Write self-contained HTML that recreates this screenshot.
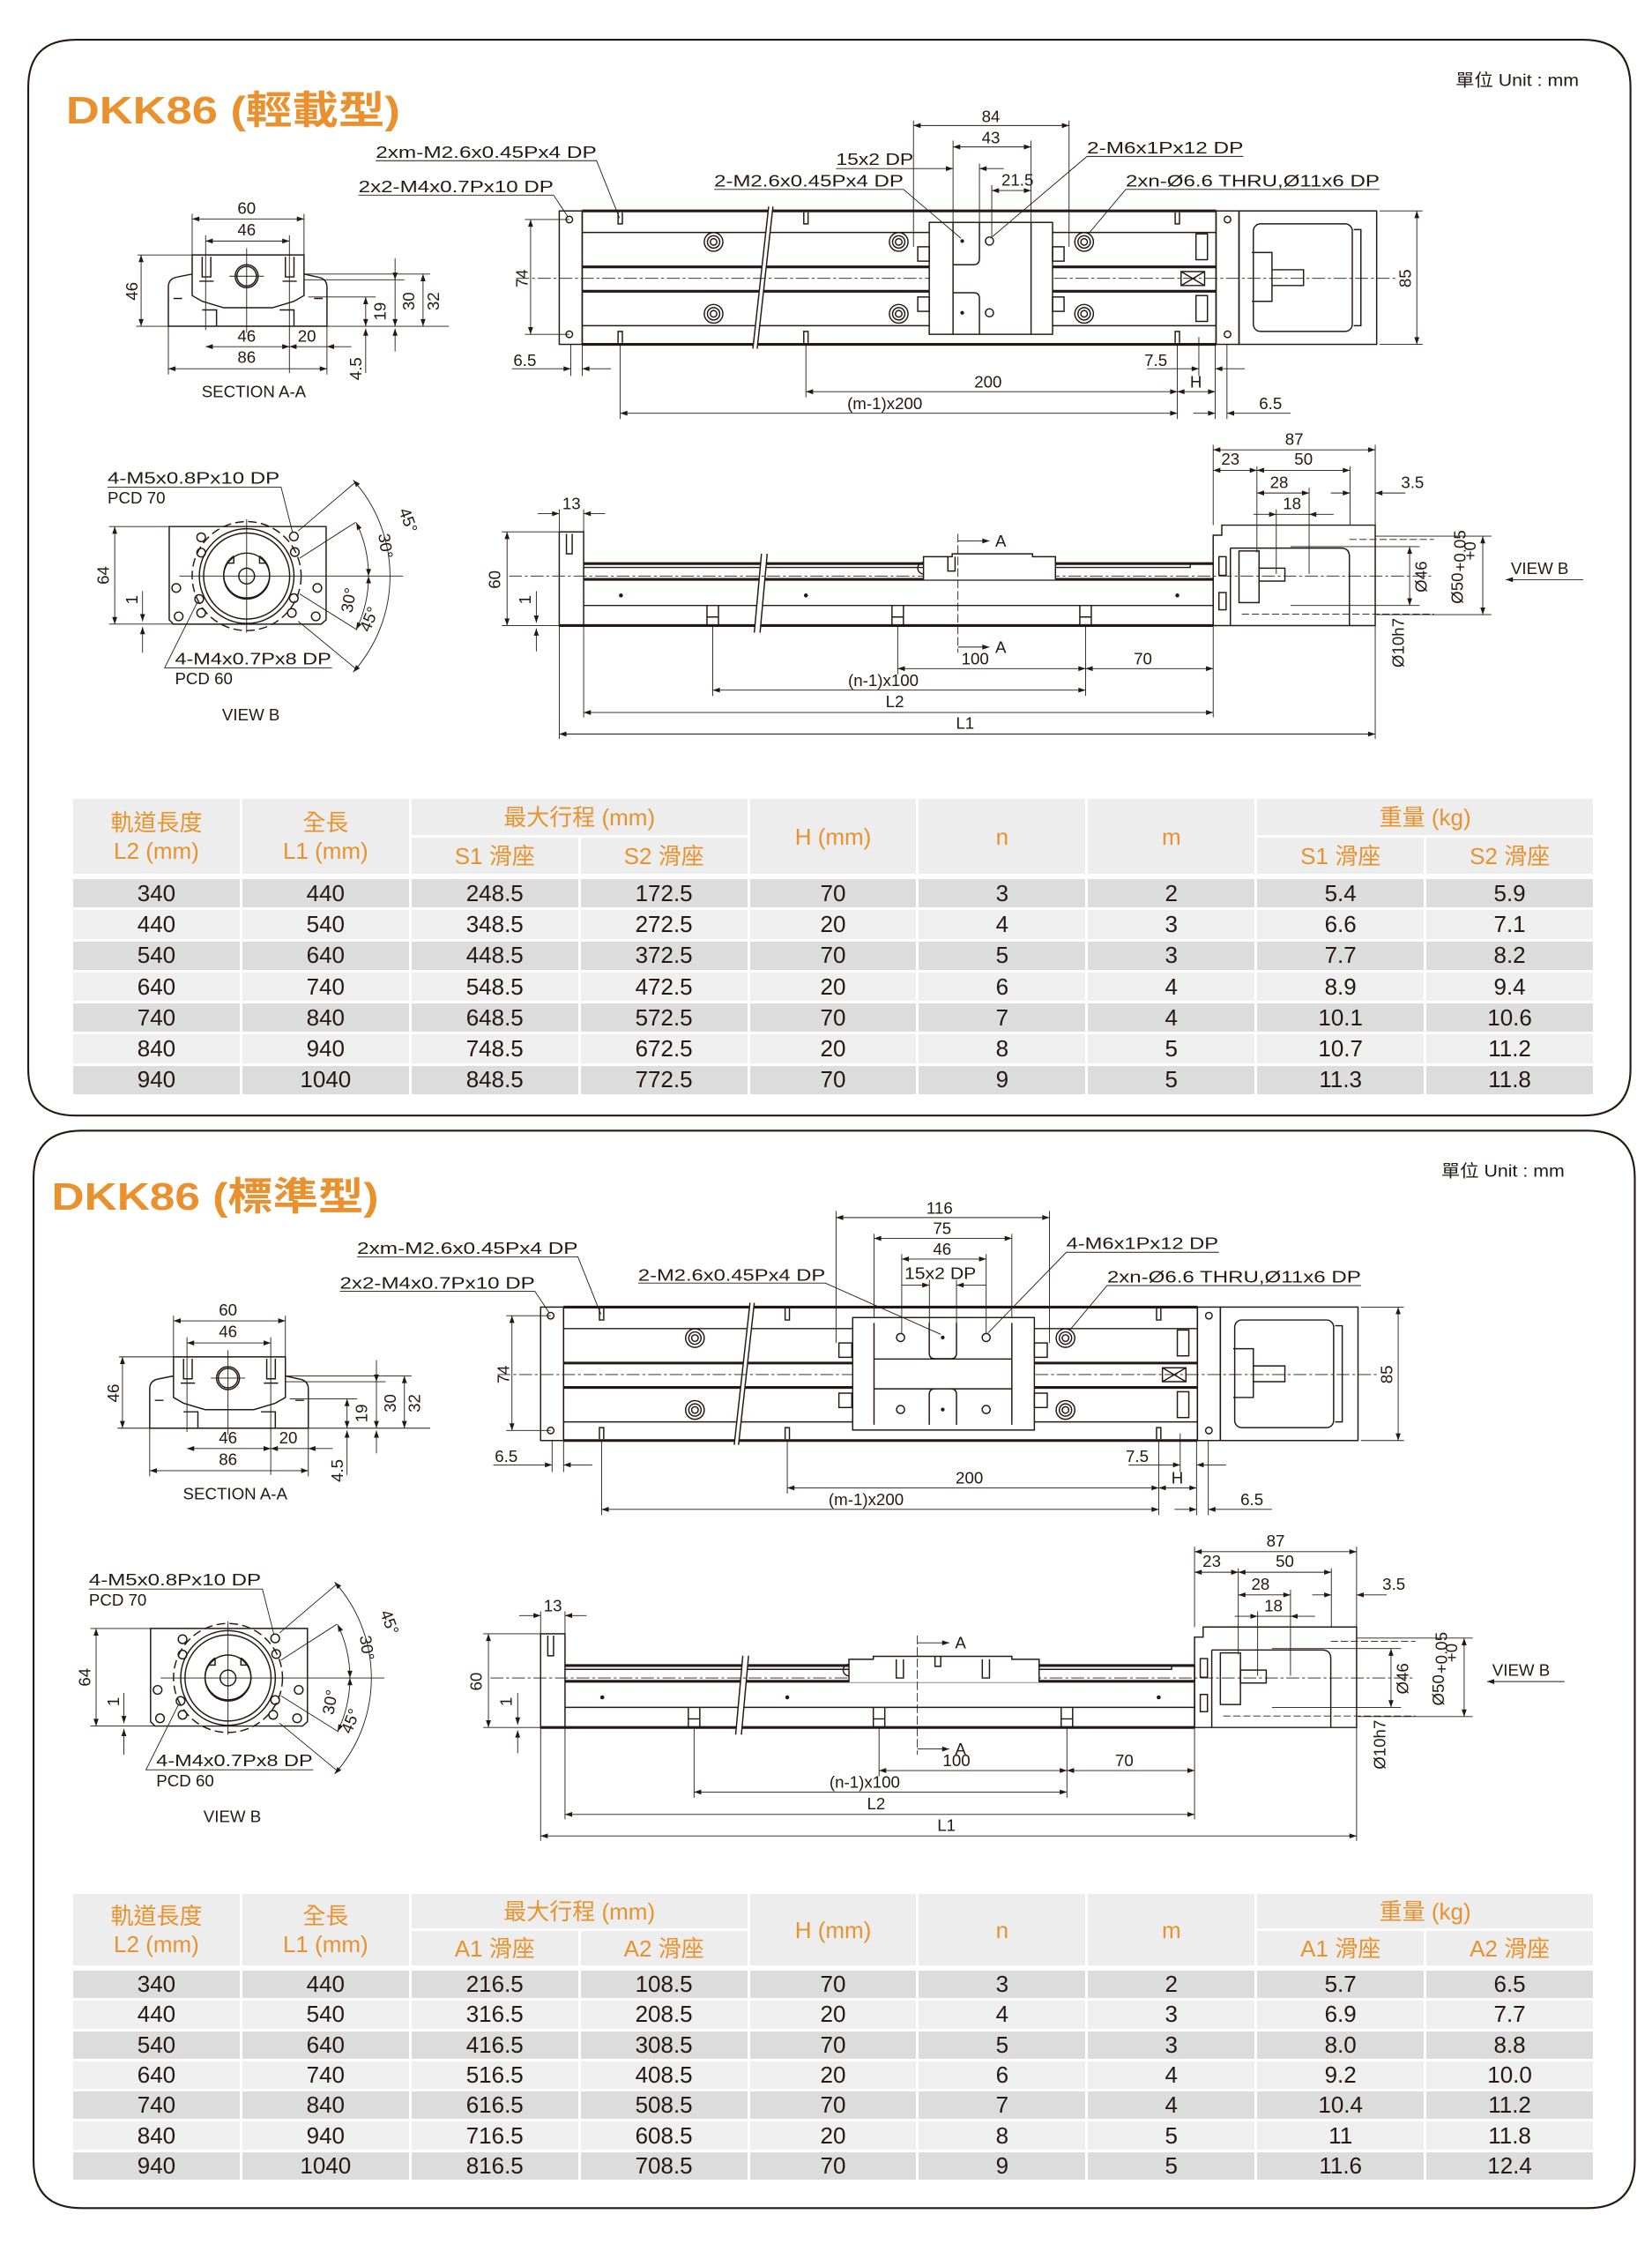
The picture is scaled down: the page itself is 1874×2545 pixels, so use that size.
<!DOCTYPE html>
<html><head><meta charset="utf-8"><style>
html,body{margin:0;padding:0;background:#fff}
body{width:1874px;height:2545px;position:relative;overflow:hidden}
svg.m{position:absolute;left:0;top:0}
.s{fill:none;stroke:#231815;stroke-width:.9}
.w{fill:#fff;stroke:#231815;stroke-width:.9}
.k{fill:none;stroke:#231815;stroke-width:1.9}
.d{fill:none;stroke:#231815;stroke-width:.55}
.c{stroke-dasharray:9 2 2 2}
.f{fill:#231815}
text{font-family:"Liberation Sans",sans-serif;font-size:11.5px;fill:#231815}
.tt{font-family:"Liberation Sans","Noto Sans CJK TC",sans-serif;font-weight:bold;font-size:27px;fill:#E8912E}
.u{font-family:"Liberation Sans","Noto Sans CJK TC",sans-serif;font-size:12px}
table{position:absolute;border-collapse:collapse;table-layout:fixed;font-family:"Liberation Sans","Noto Sans CJK TC",sans-serif;font-size:26px;text-align:center}
td{border:3px solid #fff;padding:0;overflow:hidden;white-space:nowrap}
.h td{background:#ededed;color:#E8922E;line-height:32px}
.b td{color:#231815}
.b tr:nth-child(odd) td{background:#dcdcdc}
.b tr:nth-child(even) td{background:#efefef}
</style></head><body>
<svg class="m" width="1874" height="2545" viewBox="0 0 1152 1564" preserveAspectRatio="none">
<defs>
<marker id="a" viewBox="0 0 10 10" refX="10" refY="5" markerWidth="6" markerHeight="5" orient="auto-start-reverse" markerUnits="userSpaceOnUse"><path d="M0,1.5L10,5L0,8.5z" fill="#231815"/></marker>
<g id="T">
<rect class="s" x="390" y="147" width="16" height="93"/>
<rect class="s" x="406" y="147" width="442" height="93"/>
<path class="k" d="M406,147H848M406,240H848M406,186H848M406,203H848"/>
<path class="s" d="M406,162H848M406,227H848"/>
<rect class="s" x="848" y="147" width="16" height="93"/>
<rect class="s" x="864" y="147" width="96" height="93"/>
<rect class="s" x="874" y="156" width="69" height="75" rx="5"/>
<path class="s" d="M873,176h14v34h-14M887,188h22v11h-22M944,160h5v67h-5"/>
<g class="s"><circle cx="397" cy="153" r="2.3"/><circle cx="397" cy="233" r="2.3"/><circle cx="856" cy="153" r="2.3"/><circle cx="856" cy="233" r="2.3"/></g>
<path class="s" d="M431,148v8h3v-8M560.5,148v8h3v-8M819.5,148v8h3v-8M431,239v-8h3v8M560.5,239v-8h3v8M819.5,239v-8h3v8"/>
<g class="s"><circle cx="497.6" cy="168.6" r="6.5"/><circle cx="497.6" cy="168.6" r="4.3"/><circle cx="497.6" cy="168.6" r="2.3"/>
<circle cx="626.7" cy="168.6" r="6.5"/><circle cx="626.7" cy="168.6" r="4.3"/><circle cx="626.7" cy="168.6" r="2.3"/>
<circle cx="756" cy="168.6" r="6.5"/><circle cx="756" cy="168.6" r="4.3"/><circle cx="756" cy="168.6" r="2.3"/>
<circle cx="497.6" cy="218.7" r="6.5"/><circle cx="497.6" cy="218.7" r="4.3"/><circle cx="497.6" cy="218.7" r="2.3"/>
<circle cx="626.7" cy="218.7" r="6.5"/><circle cx="626.7" cy="218.7" r="4.3"/><circle cx="626.7" cy="218.7" r="2.3"/>
<circle cx="756" cy="218.7" r="6.5"/><circle cx="756" cy="218.7" r="4.3"/><circle cx="756" cy="218.7" r="2.3"/></g>
<path class="s" d="M823.6,189.3h16.4v9.7h-16.4zM823.6,189.3l16.4,9.7M840,189.3l-16.4,9.7"/>
<rect class="s" x="834" y="163" width="8" height="18"/><rect class="s" x="834" y="206" width="8" height="18"/>
<path d="M536,144L539,144L528,243L525,243Z" fill="#fff"/>
<path class="s" d="M536,144L525,243M539,144L528,243"/>
<path class="d c" d="M360,194H975"/>
<path class="d" d="M370,153V233" marker-start="url(#a)" marker-end="url(#a)"/>
<path class="d" d="M366,153H397M366,233H397"/>
<text transform="translate(368,194) rotate(-90)" text-anchor="middle">74</text>
<path class="d" d="M988,147V240" marker-start="url(#a)" marker-end="url(#a)"/>
<path class="d" d="M962,147H992M962,240H992"/>
<text transform="translate(984,194) rotate(-90)" text-anchor="middle">85</text>
<path class="d" d="M398,240V262M406,240V262M432.5,240V292M562,240V277M821,240V292M836,235V262M847.4,240V292M855.6,240V292"/>
<path class="d" d="M357,257H398" marker-end="url(#a)"/><path class="d" d="M426,257H406" marker-end="url(#a)"/>
<text x="366" y="255" text-anchor="middle">6.5</text>
<path class="d" d="M800,257H836" marker-end="url(#a)"/><path class="d" d="M868,257H847.4" marker-end="url(#a)"/>
<text x="806" y="255" text-anchor="middle">7.5</text>
<path class="d" d="M562,273H821" marker-start="url(#a)" marker-end="url(#a)"/>
<path class="d" d="M821,273H847.4" marker-start="url(#a)" marker-end="url(#a)"/>
<text x="689" y="270" text-anchor="middle">200</text>
<text x="834" y="270" text-anchor="middle">H</text>
<path class="d" d="M432.5,288H821" marker-start="url(#a)" marker-end="url(#a)"/>
<path class="d" d="M832,288H847.4" marker-end="url(#a)"/><path class="d" d="M900,288H855.6" marker-end="url(#a)"/>
<text x="617" y="285" text-anchor="middle">(m-1)x200</text>
<text x="886" y="285" text-anchor="middle">6.5</text>
<text x="262" y="110" textLength="154" lengthAdjust="spacingAndGlyphs">2xm-M2.6x0.45Px4 DP</text>
<path class="d" d="M262,112H416L432,152"/>
<text x="250" y="134" textLength="136" lengthAdjust="spacingAndGlyphs">2x2-M4x0.7Px10 DP</text>
<path class="d" d="M250,136H386L396,151"/>
<text x="785" y="130" textLength="177" lengthAdjust="spacingAndGlyphs">2xn-Ø6.6 THRU,Ø11x6 DP</text>
<path class="d" d="M962,132H785L759,163"/>
</g>
<g id="L">
<path class="w" d="M134,191L124,193Q117.4,194 117.4,200V227.4H228V200Q228,194 221,193L212,191"/>
<path class="w" d="M134,177.7H212V206L205,210L190,214.5H156L141,210L134,206Z"/>
<circle class="s" cx="172" cy="192.5" r="8"/><circle class="s" cx="172" cy="192.5" r="6.8"/>
<path class="s" d="M141,179v14h6v-14M199,179v14h6v-14M139,196h10M197,196h10M141,216h10v11M195,216h10v11M121,208h6M219,208h6"/>
<path class="d" d="M172,173V232M160,192.5H184"/>
<path class="d" d="M134,149V178M212,149V178M143.4,164V230M201.8,164V260M117.4,227V261M228,227V261"/>
<path class="d" d="M134,152.6H212" marker-start="url(#a)" marker-end="url(#a)"/>
<path class="d" d="M143.4,168H201.8" marker-start="url(#a)" marker-end="url(#a)"/>
<path class="d" d="M96,177.7H134M95,227.4H313M212,191H300M212,195H282M215,207H262"/>
<path class="d" d="M98.4,177.7V227.4" marker-start="url(#a)" marker-end="url(#a)"/>
<path class="d" d="M143.4,241.6H201.8" marker-start="url(#a)" marker-end="url(#a)"/>
<path class="d" d="M201.8,241.6H228" marker-start="url(#a)"/><path class="d" d="M245,241.6H228" marker-end="url(#a)"/>
<path class="d" d="M117.4,257H228" marker-start="url(#a)" marker-end="url(#a)"/>
<path class="d" d="M255,207V227.4" marker-start="url(#a)" marker-end="url(#a)"/>
<path class="d" d="M255,260V229" marker-end="url(#a)"/>
<path class="d" d="M275.5,180V195" marker-end="url(#a)"/><path class="d" d="M275.5,195V227.4" marker-end="url(#a)"/><path class="d" d="M275.5,245V229" marker-end="url(#a)"/>
<path class="d" d="M295,191V227.4" marker-start="url(#a)" marker-end="url(#a)"/>
<text x="172" y="149" text-anchor="middle">60</text>
<text x="172" y="164" text-anchor="middle">46</text>
<text x="172" y="238" text-anchor="middle">46</text>
<text x="214" y="238" text-anchor="middle">20</text>
<text x="172" y="253" text-anchor="middle">86</text>
<text transform="translate(96,203) rotate(-90)" text-anchor="middle">46</text>
<text transform="translate(269,217) rotate(-90)" text-anchor="middle">19</text>
<text transform="translate(289,210) rotate(-90)" text-anchor="middle">30</text>
<text transform="translate(306,210) rotate(-90)" text-anchor="middle">32</text>
<text transform="translate(252,257) rotate(-90)" text-anchor="middle">4.5</text>
<text x="177" y="277" text-anchor="middle" font-size="11">SECTION A-A</text>
<path class="s" d="M118,367H227.4V432L224,435H121L118,432Z"/>
<circle class="s" cx="172" cy="401.5" r="38" stroke-dasharray="6 3"/>
<circle class="s" cx="172" cy="401.5" r="33"/><circle class="s" cx="172" cy="401.5" r="30"/>
<path class="s" d="M163,387.5A16,16 0 1 0 181,387.5M163,387.5v5h-4M181,387.5v5h4"/>
<circle class="s" cx="172" cy="401.5" r="16"/>
<circle class="s" cx="172" cy="401.5" r="5.5"/>
<g class="s"><circle cx="140.3" cy="374.5" r="3"/><circle cx="204.9" cy="373.9" r="3"/><circle cx="140.3" cy="385.2" r="3"/><circle cx="205.6" cy="384.8" r="3"/><circle cx="122.9" cy="409.8" r="3"/><circle cx="221.3" cy="409.8" r="3"/><circle cx="138.9" cy="417.5" r="3"/><circle cx="204.9" cy="416.9" r="3"/><circle cx="140.3" cy="427.2" r="3"/><circle cx="203.5" cy="427.2" r="3"/><circle cx="124.6" cy="429.6" r="3"/><circle cx="220.2" cy="429.6" r="3"/></g>
<path class="d" d="M125,401.5H281M172,362V441"/>
<path class="d" d="M208,370L248,336M209,389L248,364M209,414L249,439M208,433L248,466"/>
<path class="d" d="M246.3,334.6A100,100 0 0 1 246.3,468.4" marker-start="url(#a)" marker-end="url(#a)"/>
<path class="d" d="M248.4,364.2A85,85 0 0 1 257,401.5" marker-start="url(#a)" marker-end="url(#a)"/>
<path class="d" d="M257,401.5A85,85 0 0 1 248.4,438.8" marker-start="url(#a)" marker-end="url(#a)"/>
<text transform="translate(281,364) rotate(70)" text-anchor="middle">45°</text>
<text transform="translate(265,381) rotate(82)" text-anchor="middle">30°</text>
<text transform="translate(247,419) rotate(-80)" text-anchor="middle">30°</text>
<text transform="translate(261,433) rotate(-68)" text-anchor="middle">45°</text>
<path class="d" d="M76,367H118M76,435H118M96,435H121"/>
<path class="d" d="M80,367V435" marker-start="url(#a)" marker-end="url(#a)"/>
<text transform="translate(76,401) rotate(-90)" text-anchor="middle">64</text>
<path class="d" d="M99.4,412V433" marker-end="url(#a)"/><path class="d" d="M99.4,455V437" marker-end="url(#a)"/>
<text transform="translate(96,418) rotate(-90)" text-anchor="middle">1</text>
<text x="75" y="337" textLength="120" lengthAdjust="spacingAndGlyphs">4-M5x0.8Px10 DP</text>
<text x="75" y="351">PCD 70</text>
<path class="d" d="M75,339.5H196L204,371"/>
<text x="122" y="463" textLength="109" lengthAdjust="spacingAndGlyphs">4-M4x0.7Px8 DP</text>
<text x="122" y="477">PCD 60</text>
<path class="d" d="M231.5,465.5H114.8L137.5,420"/>
<text x="175" y="502" text-anchor="middle">VIEW B</text>
<rect class="s" x="390" y="370.7" width="17" height="65.3"/>
<path class="s" d="M395,372v14h4v-14"/>
<path class="k" d="M407,392.8H846M407,403.8H846M390,436H846"/>
<path class="s" d="M407,395.5H830V392.8M407,422H846M846,392.8V436"/>
<path class="s" d="M846,436V373H852V366H959V436Z"/>
<path class="s" d="M858,382H935Q941,382 941,388V436M858,382V436"/>
<rect class="s" x="864" y="384" width="14" height="36"/><rect class="s" x="878" y="396" width="18" height="9"/>
<rect class="s" x="850" y="388" width="5" height="13"/><rect class="s" x="850" y="413" width="5" height="12"/>
<path class="d" d="M941,376H1000M866,428H1000" stroke-dasharray="5 2"/>
<path class="s" d="M493,422v14M501,422v14M493,430h8M622,422v14M630,422v14M622,430h8M753,422v14M761,422v14M753,430h8"/>
<g class="f"><circle cx="433" cy="415" r="1.4"/><circle cx="562" cy="415" r="1.4"/><circle cx="821" cy="415" r="1.4"/></g>
<path d="M531,386L535,386L530,441L526,441Z" fill="#fff"/>
<path class="s" d="M531,386L526,441M535,386L530,441"/>
<path class="d c" d="M355,401.5H1000"/>
<path class="d" d="M390,355V371M407,355V371"/>
<path class="d" d="M375,358H390" marker-end="url(#a)"/><path class="d" d="M422,358H407" marker-end="url(#a)"/>
<text x="398.5" y="355" text-anchor="middle">13</text>
<path class="d" d="M350,370.7H392M350,436H390"/>
<path class="d" d="M353.6,370.7V436" marker-start="url(#a)" marker-end="url(#a)"/>
<text transform="translate(349,404) rotate(-90)" text-anchor="middle">60</text>
<path class="d" d="M374,412V434" marker-end="url(#a)"/><path class="d" d="M374,454V438" marker-end="url(#a)"/>
<text transform="translate(370,418) rotate(-90)" text-anchor="middle">1</text>
<path class="d" d="M407,436V500M497,436V485M626,436V470M757,436V485M846,436V500M390,436V515M959,436V515"/>
<path class="d" d="M626,466H757" marker-start="url(#a)" marker-end="url(#a)"/>
<path class="d" d="M757,466H846" marker-start="url(#a)" marker-end="url(#a)"/>
<path class="d" d="M497,481H757" marker-start="url(#a)" marker-end="url(#a)"/>
<path class="d" d="M407,496.6H846" marker-start="url(#a)" marker-end="url(#a)"/>
<path class="d" d="M390,511.6H959" marker-start="url(#a)" marker-end="url(#a)"/>
<text x="680" y="463" text-anchor="middle">100</text>
<text x="797" y="463" text-anchor="middle">70</text>
<text x="616" y="478" text-anchor="middle">(n-1)x100</text>
<text x="624" y="493" text-anchor="middle">L2</text>
<text x="673" y="508" text-anchor="middle">L1</text>
<path class="d" d="M846,310V366M959,310V366M876.5,325V385M941.4,325V366M912.9,340V400M890,355V400"/>
<path class="d" d="M846,313.5H959" marker-start="url(#a)" marker-end="url(#a)"/>
<path class="d" d="M846,327.8H876.5" marker-start="url(#a)" marker-end="url(#a)"/>
<path class="d" d="M876.5,327.8H941.4" marker-start="url(#a)" marker-end="url(#a)"/>
<path class="d" d="M876.5,343.6H912.9" marker-start="url(#a)" marker-end="url(#a)"/>
<path class="d" d="M874,358.5H890" marker-end="url(#a)"/><path class="d" d="M930,358.5H912.9" marker-end="url(#a)"/><path class="d" d="M890,358.5H913"/>
<path class="d" d="M928,343.6H941.4" marker-end="url(#a)"/><path class="d" d="M980,343.6H959" marker-end="url(#a)"/>
<text x="902.5" y="310" text-anchor="middle">87</text>
<text x="858" y="324" text-anchor="middle">23</text>
<text x="909" y="324" text-anchor="middle">50</text>
<text x="892" y="340" text-anchor="middle">28</text>
<text x="901" y="355" text-anchor="middle">18</text>
<text x="985" y="340" text-anchor="middle">3.5</text>
<path class="d" d="M959,373.7H1040M960,428.4H1040M900,381H990M900,422H990"/>
<path class="d" d="M983,381V422" marker-start="url(#a)" marker-end="url(#a)"/>
<path class="d" d="M1034,373.7V428.4" marker-start="url(#a)" marker-end="url(#a)"/>
<text transform="translate(995,402) rotate(-90)" text-anchor="middle">Ø46</text>
<text transform="translate(1020,410) rotate(-90)" text-anchor="middle">Ø50</text>
<text transform="translate(1022,384) rotate(-90)" font-size="6" text-anchor="middle">+0.05</text>
<text transform="translate(1029,384) rotate(-90)" font-size="6" text-anchor="middle">+0</text>
<text transform="translate(979,448) rotate(-90)" text-anchor="middle">Ø10h7</text>
<text x="1053.6" y="400">VIEW B</text>
<path class="d" d="M1104,404H1050" marker-end="url(#a)"/>
</g>
</defs>
<path d="M53,27.7H1104Q1137,27.7 1137,61V745Q1137,777.5 1104,777.5H53Q19.7,777.5 19.7,745V61Q19.7,27.7 53,27.7Z" fill="none" stroke="#231815" stroke-width="1.3"/>
<path d="M57,788H1107Q1140,788 1140,821V1506Q1140,1539 1107,1539H57Q23.4,1539 23.4,1506V821Q23.4,788 57,788Z" fill="none" stroke="#231815" stroke-width="1.3"/>
<text class="tt" x="46" y="86" textLength="233" lengthAdjust="spacingAndGlyphs">DKK86 (輕載型)</text>
<text class="tt" x="36" y="843" textLength="228" lengthAdjust="spacingAndGlyphs">DKK86 (標準型)</text>
<text class="u" x="1015" y="60" textLength="86" lengthAdjust="spacingAndGlyphs">單位 Unit : mm</text>
<text class="u" x="1005" y="820" textLength="86" lengthAdjust="spacingAndGlyphs">單位 Unit : mm</text>
<use href="#T"/>
<use href="#L"/>
<g>
<rect class="w" x="648" y="155" width="86" height="78"/>
<path class="s" d="M664.6,155V233M719,155V233M664.6,184.5H679Q683,184.5 683,180V155M664.6,204H679Q683,204 683,208V233"/>
<circle class="f" cx="671" cy="168" r="1.3"/><circle class="s" cx="690" cy="168" r="2.8"/><circle class="f" cx="671" cy="218" r="1.3"/><circle class="s" cx="690" cy="218" r="2.8"/>
<rect class="s" x="640" y="172" width="8" height="10"/><rect class="s" x="640" y="207" width="8" height="10"/><rect class="s" x="734" y="172" width="8" height="10"/><rect class="s" x="734" y="207" width="8" height="10"/>
<path class="d" d="M637,84V172M745.5,84V172M664.6,98V155M719,98V155M683,114V155M691.6,129V165"/>
<path class="d" d="M637,87.5H745.5" marker-start="url(#a)" marker-end="url(#a)"/>
<path class="d" d="M664.6,102.4H719" marker-start="url(#a)" marker-end="url(#a)"/>
<path class="d" d="M583,117.5H664.6" marker-end="url(#a)"/><path class="d" d="M700,117.5H683" marker-end="url(#a)"/>
<path class="d" d="M691.6,132.8H719" marker-start="url(#a)" marker-end="url(#a)"/>
<text x="691" y="85" text-anchor="middle">84</text>
<text x="691" y="100" text-anchor="middle">43</text>
<text x="583" y="115" textLength="54" lengthAdjust="spacingAndGlyphs">15x2 DP</text>
<text x="709.5" y="129.5" text-anchor="middle">21.5</text>
<text x="498" y="130" textLength="132" lengthAdjust="spacingAndGlyphs">2-M2.6x0.45Px4 DP</text>
<path class="d" d="M498,132H630L670,166"/>
<text x="758" y="107" textLength="109" lengthAdjust="spacingAndGlyphs">2-M6x1Px12 DP</text>
<path class="d" d="M867,109H758L692,165"/>
<path class="w" d="M644,404V388H664V386H720V388H736V404"/>
<path class="s" d="M644,392A4,4 0 0 0 644,400M661,388v10h5v-10"/>
<path class="d" d="M668,372V455" stroke-dasharray="6 2"/>
<path class="d" d="M668,377H690" marker-end="url(#a)"/><path class="d" d="M668,451H690" marker-end="url(#a)"/>
<text x="694" y="381">A</text><text x="694" y="455">A</text>
</g>
<use href="#T" transform="translate(-13,764)"/>
<use href="#L" transform="translate(-13,768)"/>
<g transform="translate(-13,764)">
<rect class="w" x="607.6" y="154.3" width="126.7" height="78.4"/>
<path class="s" d="M622.5,158V229M718.6,158V229M622.5,183.2H718.6M622.5,204H718.6M661,158V179Q661,183 665,183H676Q680,183 680,179V158M661,229V208Q661,204 665,204H676Q680,204 680,208V229"/>
<circle class="s" cx="641" cy="168.2" r="2.8"/><circle class="s" cx="700.7" cy="168.2" r="2.8"/><circle class="s" cx="641" cy="218.4" r="2.8"/><circle class="s" cx="700.7" cy="218.4" r="2.8"/>
<circle class="f" cx="670.4" cy="168.2" r="1.3"/><circle class="f" cx="670.4" cy="218.4" r="1.3"/>
<rect class="s" x="598" y="172" width="9" height="10"/><rect class="s" x="598" y="207" width="9" height="10"/><rect class="s" x="734.3" y="172" width="9" height="10"/><rect class="s" x="734.3" y="207" width="9" height="10"/>
<path class="d" d="M596,80V172M744.8,80V172M622.5,96V154M718.6,96V154M641.8,110V165M700.7,110V165M661.1,128V160M680,128V160"/>
<path class="d" d="M596,84.6H744.8" marker-start="url(#a)" marker-end="url(#a)"/>
<path class="d" d="M622.5,99.1H718.6" marker-start="url(#a)" marker-end="url(#a)"/>
<path class="d" d="M641.8,113.5H700.7" marker-start="url(#a)" marker-end="url(#a)"/>
<path class="d" d="M641.8,131.7H661.1" marker-end="url(#a)"/><path class="d" d="M700.7,131.7H680" marker-end="url(#a)"/>
<text x="668.2" y="82" text-anchor="middle">116</text>
<text x="670" y="96" text-anchor="middle">75</text>
<text x="670" y="110.5" text-anchor="middle">46</text>
<text x="668.7" y="127.5" text-anchor="middle" textLength="50" lengthAdjust="spacingAndGlyphs">15x2 DP</text>
<text x="458" y="128.5" textLength="130.5" lengthAdjust="spacingAndGlyphs">2-M2.6x0.45Px4 DP</text>
<path class="d" d="M458,130.3H588.5L669,166"/>
<text x="756.6" y="106.6" textLength="106" lengthAdjust="spacingAndGlyphs">4-M6x1Px12 DP</text>
<path class="d" d="M863,108.8H756.6L702,165"/>
</g>
<g transform="translate(-13,768)">
<path class="w" d="M605,404.5V388.5H622V386.4H718.6V388.5H737.6V404.5"/>
<path class="s" d="M605,392A4,4 0 0 0 605,400M638,388.5v13h5v-13M698,388.5v13h5v-13M665,386.4v7h4v-7"/>
<path class="d" d="M652.7,372V455" stroke-dasharray="6 2"/>
<path class="d" d="M652.7,377H675" marker-end="url(#a)"/><path class="d" d="M652.7,451H675" marker-end="url(#a)"/>
<text x="679" y="381">A</text><text x="679" y="455">A</text>
</g>
</svg>

<table class="h" style="left:80px;top:903px;width:1727px">
<colgroup><col span="9" style="width:191.9px"></colgroup>
<tr style="height:44px"><td rowspan="2">軌道長度<br>L2 (mm)</td><td rowspan="2">全長<br>L1 (mm)</td><td colspan="2">最大行程 (mm)</td><td rowspan="2">H (mm)</td><td rowspan="2">n</td><td rowspan="2">m</td><td colspan="2">重量 (kg)</td></tr>
<tr style="height:44px"><td>S1 滑座</td><td>S2 滑座</td><td>S1 滑座</td><td>S2 滑座</td></tr>
</table>
<table class="b" style="left:80px;top:994px;width:1727px">
<colgroup><col span="9" style="width:191.9px"></colgroup>
<tr style="height:35.3px"><td>340</td><td>440</td><td>248.5</td><td>172.5</td><td>70</td><td>3</td><td>2</td><td>5.4</td><td>5.9</td></tr>
<tr style="height:35.3px"><td>440</td><td>540</td><td>348.5</td><td>272.5</td><td>20</td><td>4</td><td>3</td><td>6.6</td><td>7.1</td></tr>
<tr style="height:35.3px"><td>540</td><td>640</td><td>448.5</td><td>372.5</td><td>70</td><td>5</td><td>3</td><td>7.7</td><td>8.2</td></tr>
<tr style="height:35.3px"><td>640</td><td>740</td><td>548.5</td><td>472.5</td><td>20</td><td>6</td><td>4</td><td>8.9</td><td>9.4</td></tr>
<tr style="height:35.3px"><td>740</td><td>840</td><td>648.5</td><td>572.5</td><td>70</td><td>7</td><td>4</td><td>10.1</td><td>10.6</td></tr>
<tr style="height:35.3px"><td>840</td><td>940</td><td>748.5</td><td>672.5</td><td>20</td><td>8</td><td>5</td><td>10.7</td><td>11.2</td></tr>
<tr style="height:35.3px"><td>940</td><td>1040</td><td>848.5</td><td>772.5</td><td>70</td><td>9</td><td>5</td><td>11.3</td><td>11.8</td></tr>
</table>

<table class="h" style="left:80px;top:2145px;width:1727px">
<colgroup><col span="9" style="width:191.9px"></colgroup>
<tr style="height:42px"><td rowspan="2">軌道長度<br>L2 (mm)</td><td rowspan="2">全長<br>L1 (mm)</td><td colspan="2">最大行程 (mm)</td><td rowspan="2">H (mm)</td><td rowspan="2">n</td><td rowspan="2">m</td><td colspan="2">重量 (kg)</td></tr>
<tr style="height:42px"><td>A1 滑座</td><td>A2 滑座</td><td>A1 滑座</td><td>A2 滑座</td></tr>
</table>
<table class="b" style="left:80px;top:2232px;width:1727px">
<colgroup><col span="9" style="width:191.9px"></colgroup>
<tr style="height:34.3px"><td>340</td><td>440</td><td>216.5</td><td>108.5</td><td>70</td><td>3</td><td>2</td><td>5.7</td><td>6.5</td></tr>
<tr style="height:34.3px"><td>440</td><td>540</td><td>316.5</td><td>208.5</td><td>20</td><td>4</td><td>3</td><td>6.9</td><td>7.7</td></tr>
<tr style="height:34.3px"><td>540</td><td>640</td><td>416.5</td><td>308.5</td><td>70</td><td>5</td><td>3</td><td>8.0</td><td>8.8</td></tr>
<tr style="height:34.3px"><td>640</td><td>740</td><td>516.5</td><td>408.5</td><td>20</td><td>6</td><td>4</td><td>9.2</td><td>10.0</td></tr>
<tr style="height:34.3px"><td>740</td><td>840</td><td>616.5</td><td>508.5</td><td>70</td><td>7</td><td>4</td><td>10.4</td><td>11.2</td></tr>
<tr style="height:34.3px"><td>840</td><td>940</td><td>716.5</td><td>608.5</td><td>20</td><td>8</td><td>5</td><td>11</td><td>11.8</td></tr>
<tr style="height:34.3px"><td>940</td><td>1040</td><td>816.5</td><td>708.5</td><td>70</td><td>9</td><td>5</td><td>11.6</td><td>12.4</td></tr>
</table>
</body></html>
